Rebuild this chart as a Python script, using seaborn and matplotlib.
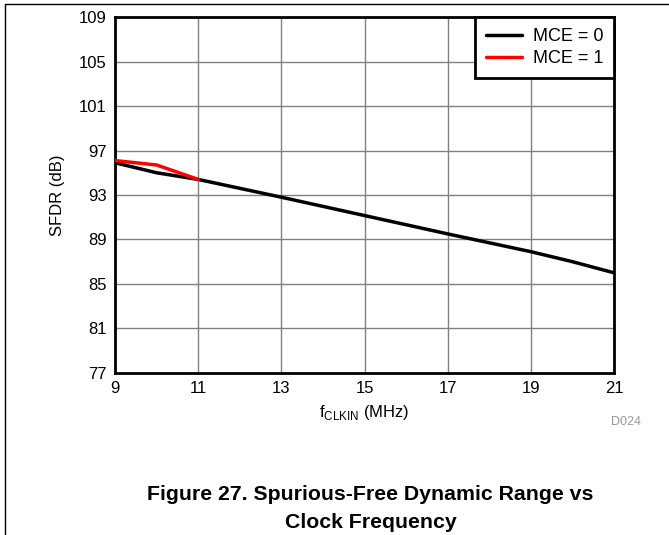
import numpy as np
import pandas as pd
import matplotlib
matplotlib.use("Agg")
import matplotlib.pyplot as plt
import seaborn as sns
from matplotlib.lines import Line2D

# data
freq_mce0 = [9, 10, 11, 13, 15, 17, 19, 20, 21]
sfdr_mce0 = [95.9, 95.0, 94.4, 92.8, 91.15, 89.5, 87.9, 87.0, 86.0]
freq_mce1 = [9, 10, 11]
sfdr_mce1 = [96.1, 95.7, 94.4]
series_names = ["MCE = 0", "MCE = 1"]
series_colors = ["black", "red"]
x_ticks = [9, 11, 13, 15, 17, 19, 21]
y_ticks = [77, 81, 85, 89, 93, 97, 101, 105, 109]

df = pd.concat([
    pd.DataFrame({"f": freq_mce0, "sfdr": sfdr_mce0, "mode": series_names[0]}),
    pd.DataFrame({"f": freq_mce1, "sfdr": sfdr_mce1, "mode": series_names[1]}),
])

sns.set_style("white")
plt.rcParams["font.family"] = ["Liberation Sans", "DejaVu Sans"]
plt.rcParams["text.color"] = "black"
plt.rcParams["axes.labelcolor"] = "black"

fig = plt.figure(figsize=(6.69, 5.35), dpi=100)
ax = fig.add_axes([0.172, 0.303, 0.746, 0.665])

sns.lineplot(data=df, x="f", y="sfdr", hue="mode", palette=series_colors,
             linewidth=2.5, ax=ax, legend=False, zorder=3)

ax.set_xlim(9, 21)
ax.set_ylim(77, 109)
ax.set_xticks(x_ticks)
ax.set_yticks(y_ticks)
ax.grid(True, color="#808080", linewidth=1.0)
for s in ax.spines.values():
    s.set_visible(True)
    s.set_color("black")
    s.set_linewidth(2)
ax.tick_params(axis="both", labelsize=12, length=0, pad=6, colors="black")
ax.set_xlabel("f$_{\\mathregular{CLKIN}}$ (MHz)", fontsize=12, labelpad=5)
ax.set_ylabel("SFDR (dB)", fontsize=12, labelpad=10)

handles = [Line2D([0], [0], color=c, lw=2.5) for c in series_colors]
leg = ax.legend(handles, series_names, loc="upper right", fontsize=13,
                frameon=True, fancybox=False, borderaxespad=0,
                handlelength=2.0, handletextpad=0.6, labelspacing=0.3,
                borderpad=0.6)
leg.get_frame().set_edgecolor("black")
leg.get_frame().set_linewidth(2)
leg.get_frame().set_alpha(1)

fig.text(0.935, 0.205, "D024", fontsize=9, color="#999999", ha="center")
fig.text(0.554, 0.065, "Figure 27. Spurious-Free Dynamic Range vs",
         fontsize=15.3, fontweight="bold", ha="center")
fig.text(0.554, 0.014, "Clock Frequency", fontsize=15.3, fontweight="bold", ha="center")

# page border lines
fig.add_artist(Line2D([0.0075, 1.0], [0.993, 0.993], color="black", lw=1))
fig.add_artist(Line2D([0.0075, 0.0075], [0.0, 0.993], color="black", lw=1))

fig.savefig("out.png", dpi=100)
